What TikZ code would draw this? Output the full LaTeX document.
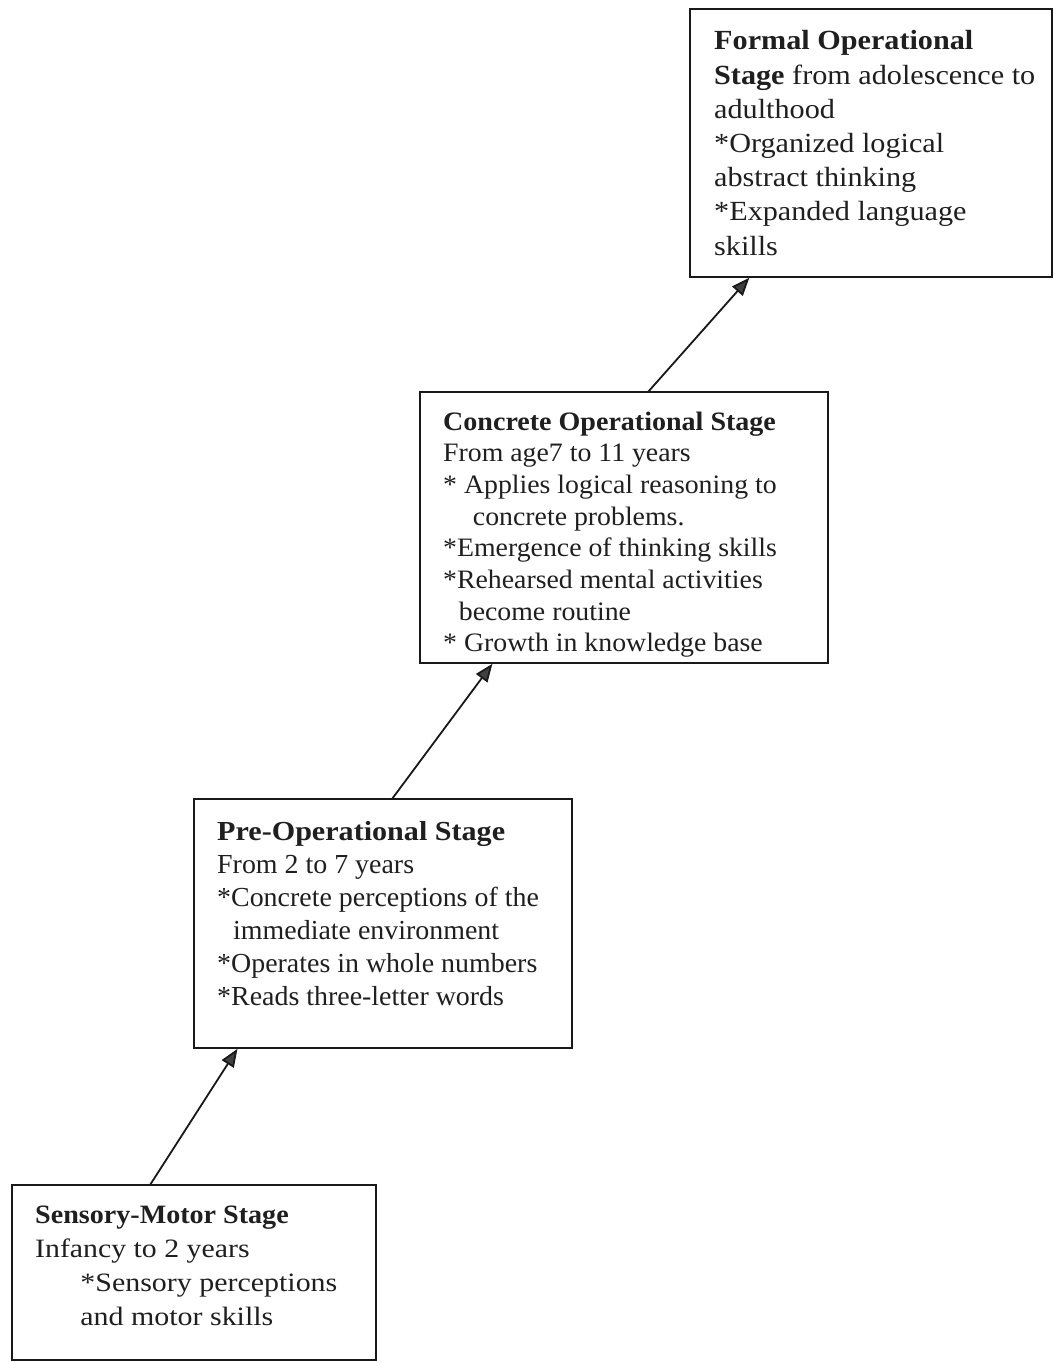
\documentclass[tikz,border=0pt]{standalone}
\usepackage{fontspec}
\usepackage{graphicx}
\setmainfont{Liberation Serif}
\usetikzlibrary{arrows.meta}
\newcommand\sline[2]{\hbox{\scalebox{#1}[1]{#2}}}
\tikzset{
  stagebox/.style={draw=black!90, line width=2.6pt, minimum width=#1, anchor=north west, inner sep=0pt, outer sep=0pt},
  stagetext/.style={anchor=base west, inner sep=0pt, text=black!88},
  arr/.style={line width=1.8pt, black!90, -{Triangle[length=18pt,width=14pt,fill=black!75]}, shorten >=1pt}
}
\begin{document}
\begin{tikzpicture}[x=1pt,y=-1pt]
\useasboundingbox[fill=white] (0,0) rectangle (1054,1362);
% boxes
\node[stagebox=362pt, minimum height=268pt] (formal) at (690,9) {};
\node[stagebox=408pt, minimum height=271pt] (concrete) at (420,392) {};
\node[stagebox=378pt, minimum height=249pt] (pre) at (194,799) {};
\node[stagebox=364pt, minimum height=175pt] (sens) at (12,1185) {};
% texts
\node[stagetext, font=\fontsize{27.7}{34.2}\selectfont] (formaltxt) at (714,50)
 {\vtop{\sline{1.09}{\textbf{Formal Operational}}
  \sline{1.09}{\textbf{Stage} from adolescence to}
  \sline{1.09}{adulthood}
  \sline{1.09}{*Organized logical}
  \sline{1.09}{abstract thinking}
  \sline{1.09}{*Expanded language}
  \sline{1.09}{skills}}};
\node[stagetext, font=\fontsize{26.6}{31.7}\selectfont] (concretetxt) at (443,430)
 {\vtop{\sline{1.054}{\textbf{Concrete Operational Stage}}
  \sline{1.045}{From age7 to 11 years}
  \sline{1.045}{* Applies logical reasoning to}
  \sline{1.045}{\hspace*{28.5pt}concrete problems.}
  \sline{1.045}{*Emergence of thinking skills}
  \sline{1.045}{*Rehearsed mental activities}
  \sline{1.045}{\hspace*{15pt}become routine}
  \sline{1.045}{* Growth in knowledge base}}};
\node[stagetext, font=\fontsize{27.5}{33}\selectfont] (pretxt) at (217,840)
 {\vtop{\sline{1.095}{\textbf{Pre-Operational Stage}}
  \sline{1.015}{From 2 to 7 years}
  \sline{1.015}{*Concrete perceptions of the}
  \sline{1.015}{\hspace*{15.8pt}immediate environment}
  \sline{1.015}{*Operates in whole numbers}
  \sline{1.015}{*Reads three-letter words}}};
\node[stagetext, font=\fontsize{26.5}{34}\selectfont] (senstxt) at (35,1223)
 {\vtop{\sline{1.06}{\textbf{Sensory-Motor Stage}}
  \sline{1.125}{Infancy to 2 years}
  \sline{1.13}{\hspace*{40pt}*Sensory perceptions}
  \sline{1.13}{\hspace*{40pt}and motor skills}}};
% connectors
\draw[arr] ([xshift=138pt]sens.north west) -- ([xshift=44pt]pre.south west);
\draw[arr] ([xshift=198pt]pre.north west) -- ([xshift=73pt]concrete.south west);
\draw[arr] ([xshift=228pt]concrete.north west) -- ([xshift=60pt]formal.south west);
\end{tikzpicture}
\end{document}
